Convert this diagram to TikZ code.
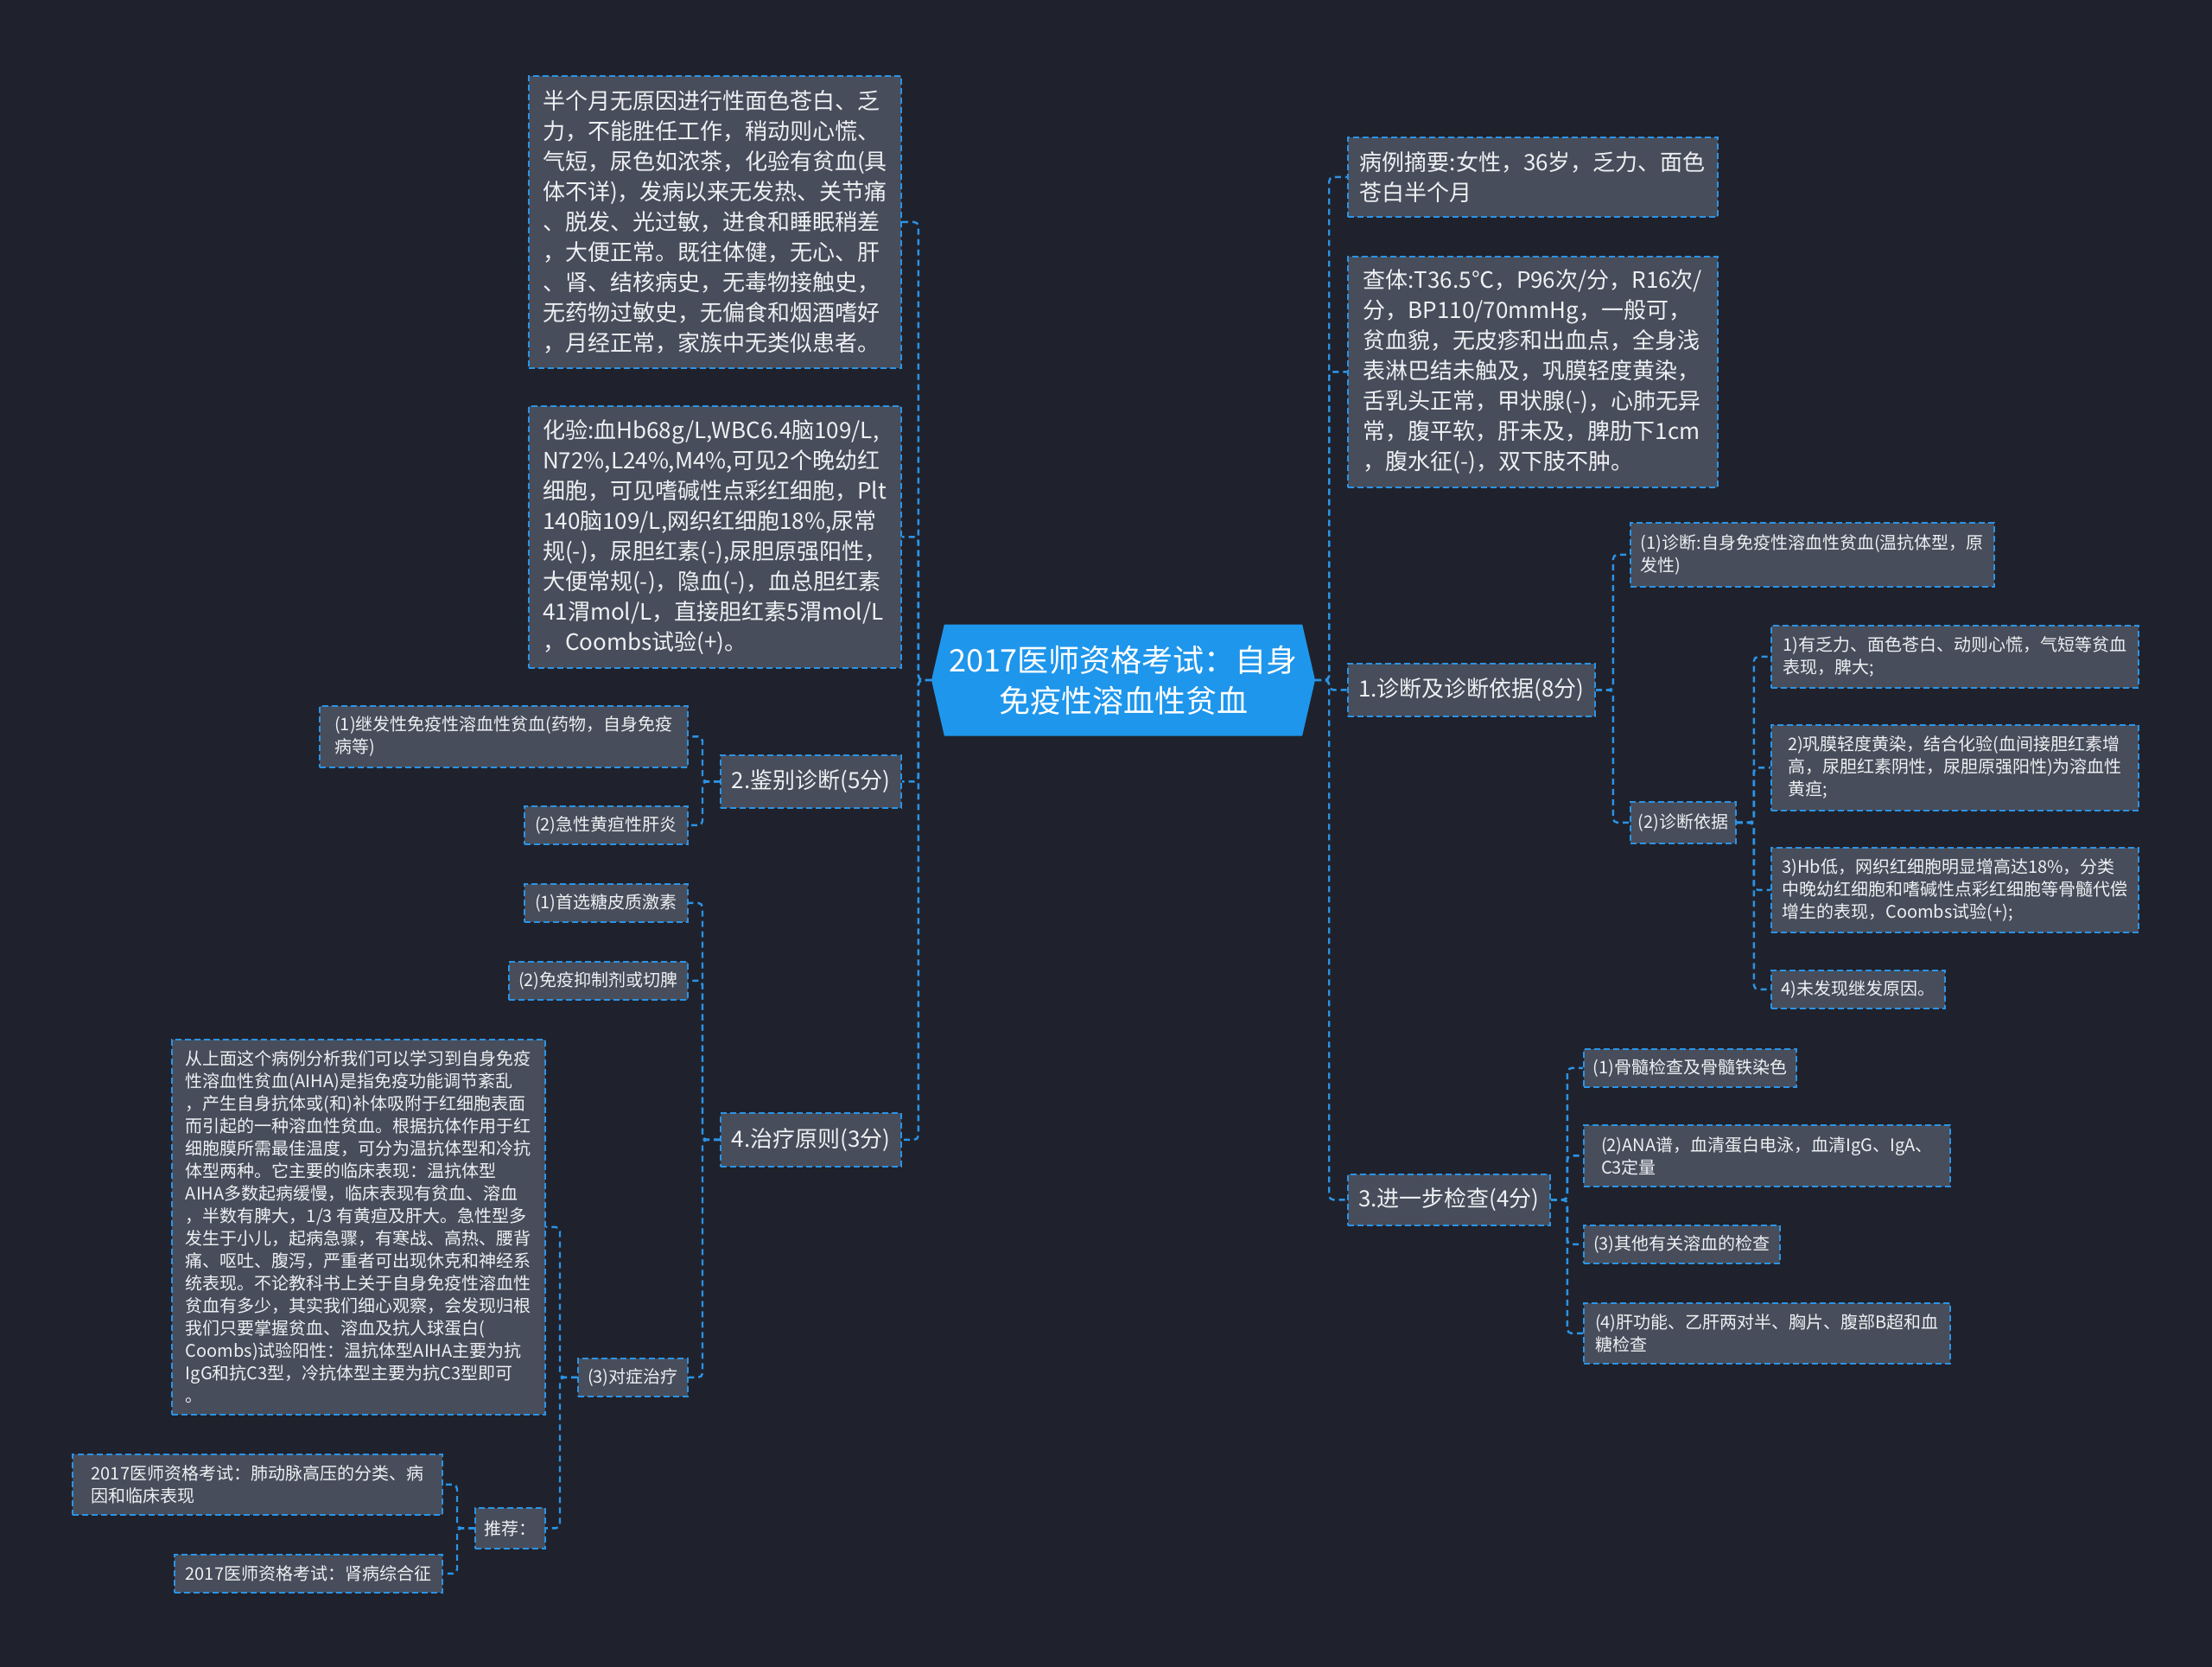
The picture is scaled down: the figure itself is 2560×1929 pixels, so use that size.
\documentclass[tikz,border=0pt]{standalone}
\usepackage{fontspec}
\setmainfont{Noto Sans CJK SC}
\usepackage{xcolor}
\usepackage{tikz}
\usetikzlibrary{positioning,shapes.symbols}
\definecolor{bg}{RGB}{31,34,44}
\definecolor{box}{RGB}{71,77,90}
\definecolor{lnk}{RGB}{43,147,230}
\definecolor{hub}{RGB}{30,150,236}
\definecolor{txt}{RGB}{238,240,243}

\begin{document}
\begin{tikzpicture}[x=1pt, y=-1pt, every node/.style={text=txt, inner sep=0pt},
  t/.style={draw=lnk, line width=1.8pt, dash pattern=on 7pt off 4pt, fill=box, anchor=north west, align=left, font=\fontsize{26}{35}\selectfont},
  s/.style={t, font=\fontsize{20}{26}\selectfont},
  a/.style={draw=lnk, line width=2.4pt, dash pattern=on 7pt off 5pt, rounded corners=5pt}]
\path[use as bounding box, fill=bg] (0,0) rectangle (2560,1929);
\node[signal, signal to=west and east, signal pointer angle=154, fill=hub, text=white, minimum width=444pt, minimum height=129pt, align=center, font=\fontsize{36}{47}\selectfont] (root) at (1300,787) {2017医师资格考试：自身\\免疫性溶血性贫血};
% right side
\node[t, minimum width=428pt, minimum height=92pt] (case) at (1559,158) {病例摘要:女性，36岁，乏力、面色\\苍白半个月};
\node[t, minimum width=428pt, minimum height=267pt] (exam) at (1559,296) {查体:T36.5℃，P96次/分，R16次/\\分，BP110/70mmHg，一般可，\\贫血貌，无皮疹和出血点，全身浅\\表淋巴结未触及，巩膜轻度黄染，\\舌乳头正常，甲状腺(-)，心肺无异\\常，腹平软，肝未及，脾肋下1cm\\，腹水征(-)，双下肢不肿。};
\node[t, minimum width=286pt, minimum height=61pt] (diag) at (1559,767) {1.诊断及诊断依据(8分)};
\node[s, minimum width=421pt, minimum height=74pt] (dx) at (1886,604) {(1)诊断:自身免疫性溶血性贫血(温抗体型，原\\发性)};
\node[s, minimum width=122pt, minimum height=48pt] (basis) at (1886,927) {(2)诊断依据};
\node[s, minimum width=425pt, minimum height=72pt] (b1) at (2049,723) {1)有乏力、面色苍白、动则心慌，气短等贫血\\表现，脾大;};
\node[s, minimum width=425pt, minimum height=99pt] (b2) at (2049,838) {2)巩膜轻度黄染，结合化验(血间接胆红素增\\高，尿胆红素阴性，尿胆原强阳性)为溶血性\\黄疸;};
\node[s, minimum width=425pt, minimum height=98pt] (b3) at (2049,980) {3)Hb低，网织红细胞明显增高达18\%，分类\\中晚幼红细胞和嗜碱性点彩红细胞等骨髓代偿\\增生的表现，Coombs试验(+);};
\node[s, minimum width=201pt, minimum height=44pt] (b4) at (2049,1122) {4)未发现继发原因。};
\node[t, minimum width=234pt, minimum height=59pt] (more) at (1559,1358) {3.进一步检查(4分)};
\node[s, minimum width=246pt, minimum height=44pt] (m1) at (1832,1213) {(1)骨髓检查及骨髓铁染色};
\node[s, minimum width=424pt, minimum height=71pt] (m2) at (1832,1301) {(2)ANA谱，血清蛋白电泳，血清IgG、IgA、\\C3定量};
\node[s, minimum width=227pt, minimum height=44pt] (m3) at (1832,1417) {(3)其他有关溶血的检查};
\node[s, minimum width=424pt, minimum height=70pt] (m4) at (1832,1507) {(4)肝功能、乙肝两对半、胸片、腹部B超和血\\糖检查};
% left side
\node[t, minimum width=431pt, minimum height=338pt] (hist) at (611,87) {半个月无原因进行性面色苍白、乏\\力，不能胜任工作，稍动则心慌、\\气短，尿色如浓茶，化验有贫血(具\\体不详)，发病以来无发热、关节痛\\、脱发、光过敏，进食和睡眠稍差\\，大便正常。既往体健，无心、肝\\、肾、结核病史，无毒物接触史，\\无药物过敏史，无偏食和烟酒嗜好\\，月经正常，家族中无类似患者。};
\node[t, minimum width=431pt, minimum height=303pt] (lab) at (611,469) {化验:血Hb68g/L,WBC6.4脑109/L,\\N72\%,L24\%,M4\%,可见2个晚幼红\\细胞，可见嗜碱性点彩红细胞，Plt\\140脑109/L,网织红细胞18\%,尿常\\规(-)，尿胆红素(-),尿胆原强阳性，\\大便常规(-)，隐血(-)，血总胆红素\\41渭mol/L，直接胆红素5渭mol/L\\，Coombs试验(+)。};
\node[t, minimum width=209pt, minimum height=61pt] (diff) at (833,873) {2.鉴别诊断(5分)};
\node[s, minimum width=426pt, minimum height=71pt] (f1) at (369,816) {(1)继发性免疫性溶血性贫血(药物，自身免疫\\病等)};
\node[s, minimum width=189pt, minimum height=44pt] (f2) at (606,932) {(2)急性黄疸性肝炎};
\node[t, minimum width=209pt, minimum height=62pt] (treat) at (833,1287) {4.治疗原则(3分)};
\node[s, minimum width=189pt, minimum height=44pt] (t1) at (606,1022) {(1)首选糖皮质激素};
\node[s, minimum width=207pt, minimum height=44pt] (t2) at (588,1112) {(2)免疫抑制剂或切脾};
\node[s, minimum width=127pt, minimum height=44pt] (t3) at (668,1571) {(3)对症治疗};
\node[s, minimum width=432pt, minimum height=434pt] (note) at (198,1202) {从上面这个病例分析我们可以学习到自身免疫\\性溶血性贫血(AIHA)是指免疫功能调节紊乱\\，产生自身抗体或(和)补体吸附于红细胞表面\\而引起的一种溶血性贫血。根据抗体作用于红\\细胞膜所需最佳温度，可分为温抗体型和冷抗\\体型两种。它主要的临床表现：温抗体型\\AIHA多数起病缓慢，临床表现有贫血、溶血\\，半数有脾大，1/3 有黄疸及肝大。急性型多\\发生于小儿，起病急骤，有寒战、高热、腰背\\痛、呕吐、腹泻，严重者可出现休克和神经系\\统表现。不论教科书上关于自身免疫性溶血性\\贫血有多少，其实我们细心观察，会发现归根\\我们只要掌握贫血、溶血及抗人球蛋白(\\Coombs)试验阳性：温抗体型AIHA主要为抗\\IgG和抗C3型，冷抗体型主要为抗C3型即可\\。};
\node[s, minimum width=81pt, minimum height=47pt] (rec) at (549,1744) {推荐：};
\node[s, minimum width=428pt, minimum height=70pt] (r1) at (83,1682) {2017医师资格考试：肺动脉高压的分类、病\\因和临床表现};
\node[s, minimum width=310pt, minimum height=44pt] (r2) at (201,1798) {2017医师资格考试：肾病综合征};
% connectors
\draw[a] (root.east) -- ++(16,0) |- (case.west); \draw[a] (root.east) -- ++(16,0) |- (exam.west);
\draw[a] (root.east) -- ++(16,0) |- (diag.west); \draw[a] (root.east) -- ++(16,0) |- (more.west);
\draw[a] (diag.east) -- ++(20,0) |- (dx.west); \draw[a] (diag.east) -- ++(20,0) |- (basis.west);
\draw[a] (basis.east) -- ++(20,0) |- (b1.west); \draw[a] (basis.east) -- ++(20,0) |- (b2.west);
\draw[a] (basis.east) -- ++(20,0) |- (b3.west); \draw[a] (basis.east) -- ++(20,0) |- (b4.west);
\draw[a] (more.east) -- ++(19,0) |- (m1.west); \draw[a] (more.east) -- ++(19,0) |- (m2.west);
\draw[a] (more.east) -- ++(19,0) |- (m3.west); \draw[a] (more.east) -- ++(19,0) |- (m4.west);
\draw[a] (root.west) -- ++(-15,0) |- (hist.east); \draw[a] (root.west) -- ++(-15,0) |- (lab.east);
\draw[a] (root.west) -- ++(-15,0) |- (diff.east); \draw[a] (root.west) -- ++(-15,0) |- (treat.east);
\draw[a] (diff.west) -- ++(-20,0) |- (f1.east); \draw[a] (diff.west) -- ++(-20,0) |- (f2.east);
\draw[a] (treat.west) -- ++(-20,0) |- (t1.east); \draw[a] (treat.west) -- ++(-20,0) |- (t2.east);
\draw[a] (treat.west) -- ++(-20,0) |- (t3.east);
\draw[a] (t3.west) -- ++(-20,0) |- (note.east); \draw[a] (t3.west) -- ++(-20,0) |- (rec.east);
\draw[a] (rec.west) -- ++(-20,0) |- (r1.east); \draw[a] (rec.west) -- ++(-20,0) |- (r2.east);
\end{tikzpicture}
\end{document}
